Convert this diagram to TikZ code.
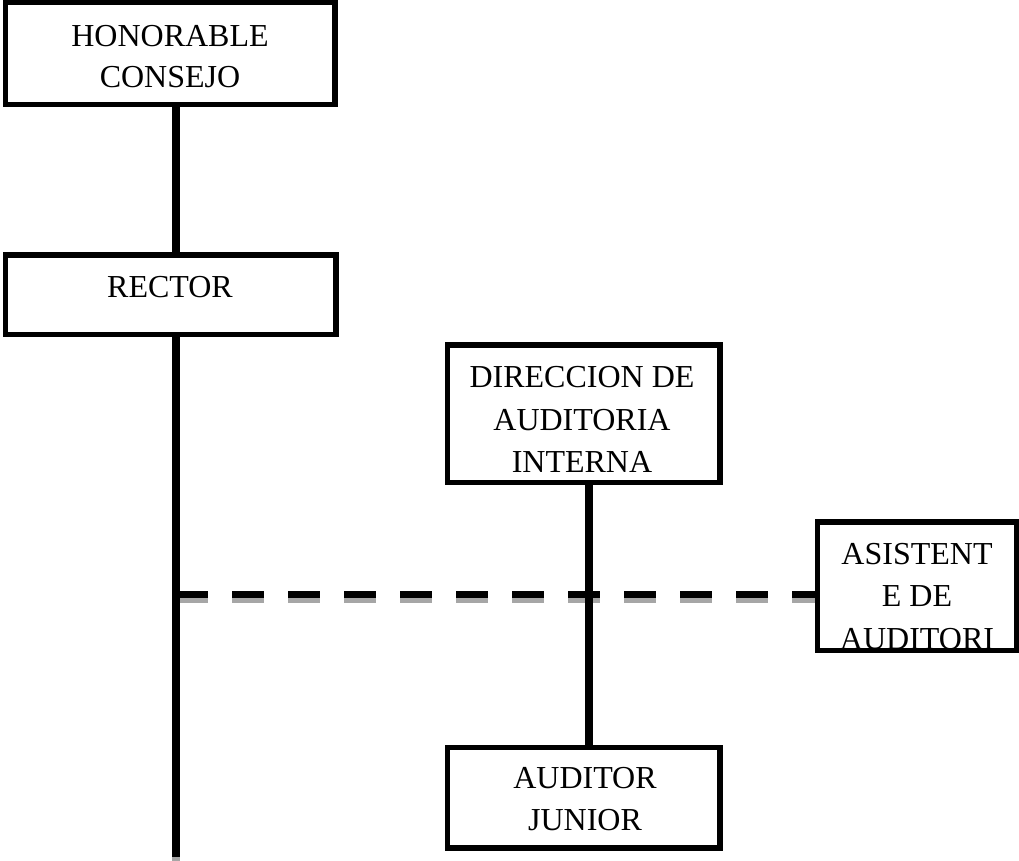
\documentclass[tikz,border=0pt]{standalone}
\usepackage{fontspec}
\setmainfont{Liberation Serif}
\definecolor{shadowgray}{HTML}{A6A6A6}
\begin{document}
\begin{tikzpicture}[x=0.5pt,y=-0.5pt,
  box/.style={draw=black, line width=2.6pt, fill=white, rectangle, inner sep=0pt},
  lbl/.style={anchor=base, inner sep=0pt, font=\fontsize{16pt}{21pt}\selectfont},
  conn/.style={draw=black, line width=4pt},
  dconn/.style={draw=black, line width=3.5pt, dash pattern=on 16pt off 12pt},
  shadow/.style={draw=shadowgray, transform canvas={yshift=-2.5pt}}]
\useasboundingbox (0,0) rectangle (1019,861);
% coordinates for connectors
\coordinate (vx) at (176,0);
\coordinate (vy) at (589,0);
\coordinate (dj) at (176,594.5);
\coordinate (bot) at (176,857);
% boxes (drawn invisibly first for anchors)
\path (170,53.5) node[minimum width=164.5pt, minimum height=51pt, inner sep=0pt] (hc) {};
\path (170.5,295) node[minimum width=165pt, minimum height=39.5pt, inner sep=0pt] (rector) {};
\path (583.5,414) node[minimum width=136pt, minimum height=68.5pt, inner sep=0pt] (dir) {};
\path (583.5,797.5) node[minimum width=136pt, minimum height=50pt, inner sep=0pt] (aud) {};
\path (917,586.5) node[minimum width=99.5pt, minimum height=64pt, inner sep=0pt] (asis) {};
% connector shadows
\draw[conn, shadow] (hc.south -| vx) -- (rector.north -| vx);
\draw[conn, shadow] (rector.south -| vx) -- (bot);
\draw[conn, shadow] (dir.south -| vy) -- (aud.north -| vy);
\draw[dconn, shadow] (dj) -- (dj -| asis.west);
% connectors
\draw[conn] (hc.south -| vx) -- (rector.north -| vx);
\draw[conn] (rector.south -| vx) -- (bot);
\draw[dconn] (dj) -- (dj -| asis.west);
\draw[conn] (dir.south -| vy) -- (aud.north -| vy);
% visible boxes
\draw[box] (hc.south west) rectangle (hc.north east);
\draw[box] (rector.south west) rectangle (rector.north east);
\draw[box] (dir.south west) rectangle (dir.north east);
\draw[box] (aud.south west) rectangle (aud.north east);
\draw[box] (asis.south west) rectangle (asis.north east);
% texts
\node[lbl] (hc1) at (170,47) {HONORABLE};
\node[lbl] (hc2) at (170,88) {CONSEJO};
\node[lbl] (rt) at (170,298) {RECTOR};
\node[lbl] (d1) at (582,388) {DIRECCION DE};
\node[lbl] (d2) at (582,431) {AUDITORIA};
\node[lbl] (d3) at (582,473) {INTERNA};
\node[lbl] (a1) at (585,788) {AUDITOR};
\node[lbl] (a2) at (585,830) {JUNIOR};
\begin{scope}
\clip (820,525) rectangle (1014,648);
\node[lbl] (s1) at (917,565) {ASISTENT};
\node[lbl] (s2) at (917,607) {E DE};
\node[lbl] (s3) at (917,650) {AUDITORI};
\end{scope}
\end{tikzpicture}
\end{document}
